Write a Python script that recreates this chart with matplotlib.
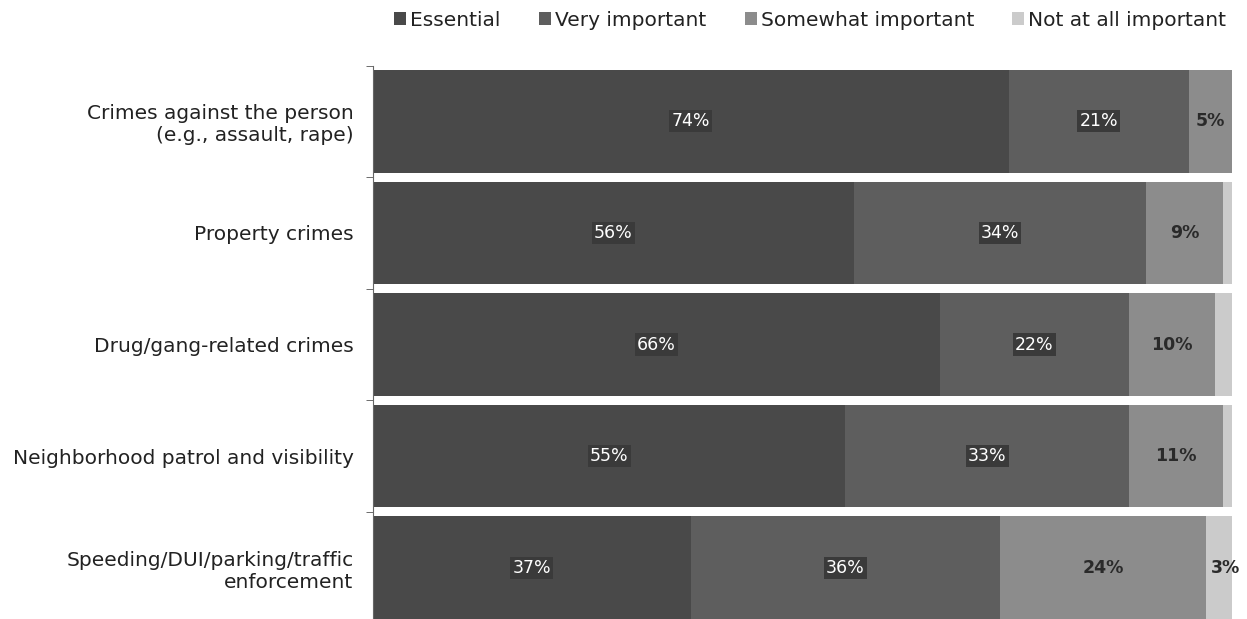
import matplotlib.pyplot as plt
import numpy as np

categories = ["Crimes against the person\n(e.g., assault, rape)",
              "Property crimes",
              "Drug/gang-related crimes",
              "Neighborhood patrol and visibility",
              "Speeding/DUI/parking/traffic\nenforcement"]
series = ["Essential", "Very important", "Somewhat important", "Not at all important"]
essential = [74, 56, 66, 55, 37]
very_important = [21, 34, 22, 33, 36]
somewhat_important = [5, 9, 10, 11, 24]
not_important = [0, 1, 2, 1, 3]

colors = ["#494949", "#5e5e5e", "#8c8c8c", "#cbcbcb"]
# which values get a printed label (small slivers stay unlabelled)
show_label = [[True] * 5, [True] * 5, [True] * 5, [False, False, False, False, True]]

fig = plt.figure(figsize=(12.47, 6.19), dpi=100)
ax = fig.add_axes([0.299, 0.0, 0.689, 0.894])

data = [essential, very_important, somewhat_important, not_important]
y = np.arange(len(categories))
left = np.zeros(len(categories))
bar_h = 0.92
for i, (name, vals) in enumerate(zip(series, data)):
    vals = np.array(vals, dtype=float)
    ax.barh(y, vals, left=left, height=bar_h, color=colors[i], label=name, linewidth=0)
    for j, v in enumerate(vals):
        if not show_label[i][j] or v == 0:
            continue
        cx = left[j] + v / 2
        if i < 2:
            ax.text(cx, y[j], f"{int(v)}%", ha="center", va="center", fontsize=12.5,
                    color="white",
                    bbox=dict(boxstyle="square,pad=0.12", fc="#3a3a3a", ec="none"))
        elif i == 2:
            ax.text(cx, y[j], f"{int(v)}%", ha="center", va="center", fontsize=12.5,
                    color="#2a2a2a", fontweight="bold")
        else:
            ax.text(left[j] + v * 0.75, y[j], f"{int(v)}%", ha="center", va="center",
                    fontsize=12.5, color="#2a2a2a", fontweight="bold")
    left += vals

ax.set_yticks(y)
ax.set_yticklabels(categories, fontsize=14.5, color="#222222")
ax.tick_params(axis="y", which="major", length=0, pad=14)
ax.set_yticks(np.arange(len(categories)) - 0.5, minor=True)
ax.tick_params(axis="y", which="minor", length=5, color="#555555")
ax.set_xticks([])
ax.set_xlim(0, 100)
ax.set_ylim(len(categories) - 1 + bar_h / 2, -0.5)
for s in ["top", "right", "bottom"]:
    ax.spines[s].set_visible(False)
ax.spines["left"].set_color("#666666")
ax.spines["left"].set_linewidth(0.8)

fig.legend(loc="upper right", bbox_to_anchor=(0.998, 1.012), ncol=4, frameon=False,
           fontsize=14.5, handlelength=0.6, handleheight=0.6, handletextpad=0.2,
           columnspacing=1.9, labelcolor="#222222")

plt.savefig("out.png", dpi=100)
